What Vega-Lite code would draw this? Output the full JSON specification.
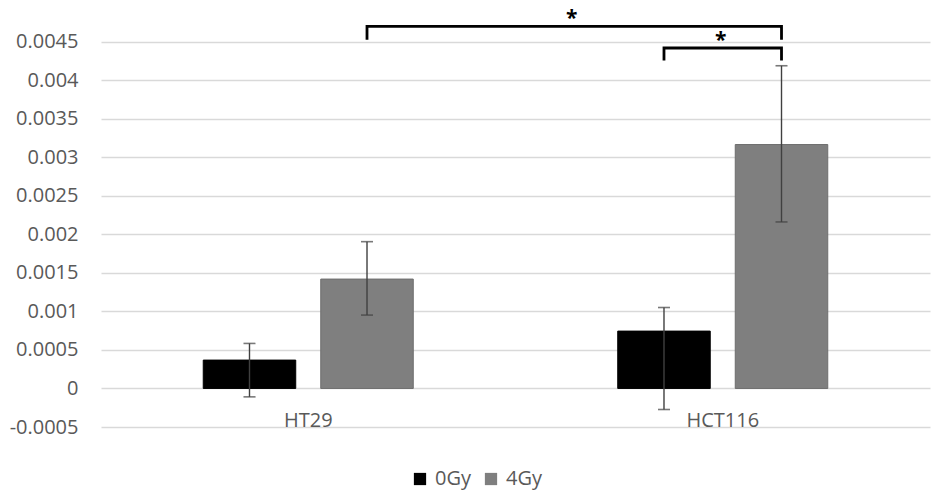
{
  "$schema": "https://vega.github.io/schema/vega-lite/v6.json",
  "width": 829,
  "height": 424,
  "autosize": {"type": "none"},
  "padding": {"left": 101, "top": 3, "right": 5, "bottom": 67},
  "background": "white",
  "config": {
    "view": {"stroke": null},
    "font": "Open Sans",
    "axis": {"labelFont": "Open Sans", "labelFontSize": 20, "labelColor": "#595959", "title": null}
  },
  "datasets": {
    "bars": [
      {"Cell": "HT29", "Dose": "0Gy", "Mean": 0.000368, "Lower": -0.000109, "Upper": 0.000584},
      {"Cell": "HT29", "Dose": "4Gy", "Mean": 0.001419, "Lower": 0.000952, "Upper": 0.001904},
      {"Cell": "HCT116", "Dose": "0Gy", "Mean": 0.000744, "Lower": -0.000273, "Upper": 0.00105},
      {"Cell": "HCT116", "Dose": "4Gy", "Mean": 0.003164, "Lower": 0.00216, "Upper": 0.004186}
    ],
    "brackets": [
      {"Bracket": "A", "Ord": 1, "Cell": "HT29", "Dose": "4Gy", "Y": 0.004523},
      {"Bracket": "A", "Ord": 2, "Cell": "HT29", "Dose": "4Gy", "Y": 0.004696},
      {"Bracket": "A", "Ord": 3, "Cell": "HCT116", "Dose": "4Gy", "Y": 0.004696},
      {"Bracket": "A", "Ord": 4, "Cell": "HCT116", "Dose": "4Gy", "Y": 0.004523},
      {"Bracket": "B", "Ord": 1, "Cell": "HCT116", "Dose": "0Gy", "Y": 0.004255},
      {"Bracket": "B", "Ord": 2, "Cell": "HCT116", "Dose": "0Gy", "Y": 0.004416},
      {"Bracket": "B", "Ord": 3, "Cell": "HCT116", "Dose": "4Gy", "Y": 0.004416},
      {"Bracket": "B", "Ord": 4, "Cell": "HCT116", "Dose": "4Gy", "Y": 0.004255}
    ],
    "star1": [{"Cell": "HCT116", "Y": 0.004696, "Label": "*"}],
    "star2": [{"Cell": "HCT116", "Y": 0.004416, "Label": "*"}]
  },
  "encoding": {
    "x": {
      "field": "Cell", "type": "nominal", "sort": ["HT29", "HCT116"],
      "scale": {"paddingInner": 0, "paddingOuter": 0},
      "axis": {"labelAngle": 0, "domain": false, "ticks": false, "grid": false, "offset": -38.7, "labelPadding": 22, "labelBaseline": "top"}
    }
  },
  "layer": [
    {
      "data": {"name": "bars"},
      "mark": {"type": "bar", "strokeWidth": 1},
      "encoding": {
        "xOffset": {"field": "Dose", "type": "nominal", "sort": ["0Gy", "4Gy"], "scale": {"paddingInner": 0.2128, "paddingOuter": 0.87}},
        "y": {
          "field": "Mean", "type": "quantitative",
          "scale": {"domain": [-0.0005, 0.005], "nice": false, "zero": false},
          "axis": {
            "values": [-0.0005, 0, 0.0005, 0.001, 0.0015, 0.002, 0.0025, 0.003, 0.0035, 0.004, 0.0045],
            "labelExpr": "'' + datum.value",
            "domain": false, "ticks": false, "grid": true, "gridColor": "#d9d9d9", "gridWidth": 1.3,
            "labelPadding": 23
          }
        },
        "color": {
          "field": "Dose", "type": "nominal",
          "scale": {"domain": ["0Gy", "4Gy"], "range": ["#000000", "#7f7f7f"]},
          "legend": {
            "title": null, "orient": "none", "direction": "horizontal",
            "legendX": 309, "legendY": 466,
            "symbolType": "square", "symbolSize": 150, "symbolStrokeWidth": 0,
            "labelFontSize": 20, "labelColor": "#595959", "labelFont": "Open Sans",
            "labelOffset": 5, "columnPadding": 10
          }
        },
        "stroke": {
          "field": "Dose", "type": "nominal",
          "scale": {"domain": ["0Gy", "4Gy"], "range": ["#000000", "#6e6e6e"]},
          "legend": null
        }
      }
    },
    {
      "data": {"name": "bars"},
      "mark": {"type": "rule", "color": "#404040", "strokeWidth": 1.4},
      "encoding": {
        "xOffset": {"field": "Dose", "type": "nominal", "sort": ["0Gy", "4Gy"]},
        "y": {"field": "Lower", "type": "quantitative"},
        "y2": {"field": "Upper"}
      }
    },
    {
      "data": {"name": "bars"},
      "mark": {"type": "tick", "color": "#404040", "size": 12, "thickness": 1.6, "orient": "horizontal"},
      "encoding": {
        "xOffset": {"field": "Dose", "type": "nominal", "sort": ["0Gy", "4Gy"]},
        "y": {"field": "Lower", "type": "quantitative"}
      }
    },
    {
      "data": {"name": "bars"},
      "mark": {"type": "tick", "color": "#404040", "size": 12, "thickness": 1.6, "orient": "horizontal"},
      "encoding": {
        "xOffset": {"field": "Dose", "type": "nominal", "sort": ["0Gy", "4Gy"]},
        "y": {"field": "Upper", "type": "quantitative"}
      }
    },
    {
      "data": {"name": "brackets"},
      "mark": {"type": "line", "color": "#000000", "strokeWidth": 2.8, "strokeJoin": "miter", "strokeCap": "butt", "clip": false},
      "encoding": {
        "xOffset": {"field": "Dose", "type": "nominal", "sort": ["0Gy", "4Gy"]},
        "y": {"field": "Y", "type": "quantitative"},
        "detail": {"field": "Bracket"},
        "order": {"field": "Ord", "type": "quantitative"}
      }
    },
    {
      "data": {"name": "star1"},
      "mark": {"type": "text", "font": "Open Sans", "fontSize": 21, "fontWeight": "bold", "color": "#000000", "baseline": "alphabetic", "dx": -151, "dy": -1},
      "encoding": {
        "y": {"field": "Y", "type": "quantitative"},
        "text": {"field": "Label"}
      }
    },
    {
      "data": {"name": "star2"},
      "mark": {"type": "text", "font": "Open Sans", "fontSize": 21, "fontWeight": "bold", "color": "#000000", "baseline": "alphabetic", "dx": -2, "dy": -1},
      "encoding": {
        "y": {"field": "Y", "type": "quantitative"},
        "text": {"field": "Label"}
      }
    }
  ]
}
